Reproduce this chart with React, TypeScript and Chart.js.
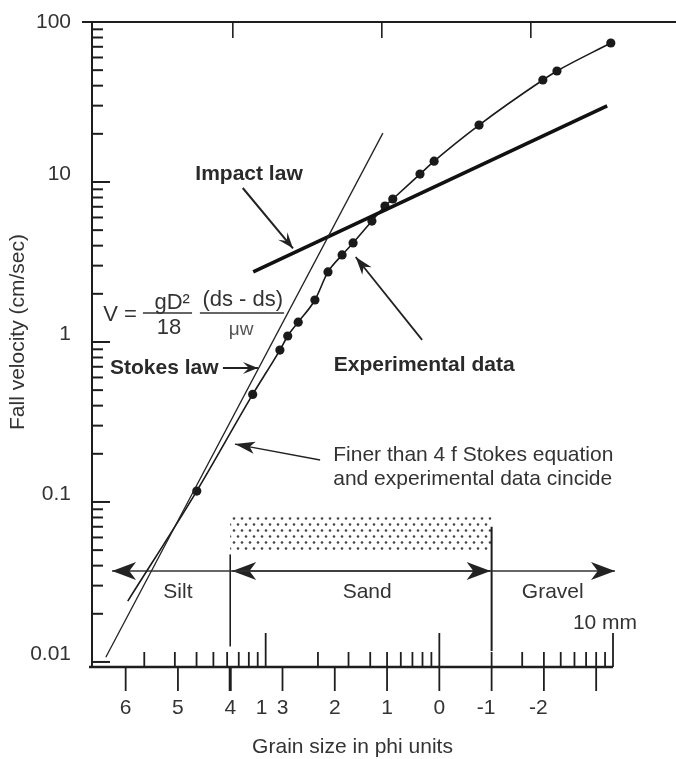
import React, { useEffect, useRef } from "react";
import { Chart, registerables } from "chart.js";

Chart.register(...registerables);

// ---- data (x in phi units, y = fall velocity cm/sec) ----
const expPhi = [5.96, 4.64, 3.57, 3.05, 2.9, 2.7, 2.38, 2.13, 1.86, 1.65, 1.29, 1.04, 0.89, 0.37, 0.1, -0.76, -1.98, -2.25, -3.28];
const expVelocity = [0.024, 0.117, 0.47, 0.89, 1.09, 1.33, 1.83, 2.74, 3.5, 4.16, 5.7, 7.08, 7.83, 11.2, 13.5, 22.7, 43.4, 49.4, 73.9];
const stokesPhi = [6.38, 1.08];
const stokesVelocity = [0.0107, 20.2];
const impactPhi = [3.56, -3.21];
const impactVelocity = [2.74, 29.9];

const yTickValues = [100, 10, 1, 0.1, 0.01];
const yTickLabels = ["100", "10", "1", "0.1", "0.01"];
const phiTicks = [6, 5, 4, 3, 2, 1, 0, -1, -2, -3];
const phiTickLabels = ["6", "5", "4", "3", "2", "1", "0", "-1", "-2", ""];
const mmMinorTicks = [0.02, 0.03, 0.04, 0.05, 0.06, 0.07, 0.08, 0.09, 0.2, 0.3, 0.4, 0.5, 0.6, 0.7, 0.8, 0.9, 2, 3, 4, 5, 6, 7, 8, 9];
const mmMajorTicks = [0.1, 1, 10];
const topTickPhi = [3.95, 1.1, -1.75];
const classBoundsPhi = [4, -1]; // silt/sand, sand/gravel
const classNames = ["Silt", "Sand", "Gravel"];
const classLabelPhi = [5.0, 1.38, -2.17];

const FONT = '"Liberation Sans", Arial, Helvetica, sans-serif';
const INK = "#1e1e1e";
const TEXT = "#333";

function head(ctx: CanvasRenderingContext2D, x1: number, y1: number, x2: number, y2: number, len: number, half: number, notch: number) {
  const a = Math.atan2(y2 - y1, x2 - x1);
  const c = Math.cos(a), s = Math.sin(a);
  const bx = x2 - len * c, by = y2 - len * s;
  ctx.beginPath();
  ctx.moveTo(x2, y2);
  ctx.lineTo(bx - half * s, by + half * c);
  ctx.lineTo(x2 - notch * len * c, y2 - notch * len * s);
  ctx.lineTo(bx + half * s, by - half * c);
  ctx.closePath();
  ctx.fill();
}

function arrow(ctx: CanvasRenderingContext2D, x1: number, y1: number, x2: number, y2: number, lw: number, len: number, half: number, notch: number) {
  ctx.lineWidth = lw;
  ctx.beginPath();
  ctx.moveTo(x1, y1);
  ctx.lineTo(x2, y2);
  ctx.stroke();
  head(ctx, x1, y1, x2, y2, len, half, notch);
}

const decorPlugin = {
  id: "decor",
  beforeDatasetsDraw(chart: any) {
    const ctx: CanvasRenderingContext2D = chart.ctx;
    const xs = chart.scales.x, ys = chart.scales.y;
    const { left, right, top, bottom } = chart.chartArea;
    const X = (p: number) => xs.getPixelForValue(p);
    const Y = (v: number) => ys.getPixelForValue(v);
    const mmX = (mm: number) => X(-Math.log2(mm));
    ctx.save();

    // stippled sand band
    const pc = document.createElement("canvas");
    pc.width = 8; pc.height = 12;
    const p = pc.getContext("2d")!;
    p.fillStyle = "#444";
    p.beginPath(); p.arc(2, 2.5, 1.3, 0, Math.PI * 2); p.fill();
    p.beginPath(); p.arc(6, 8.5, 1.3, 0, Math.PI * 2); p.fill();
    const pat = ctx.createPattern(pc, "repeat")!;
    ctx.fillStyle = pat;
    const bx1 = X(classBoundsPhi[0]), bx2 = X(classBoundsPhi[1]);
    ctx.fillRect(bx1, Y(0.083), bx2 - bx1, Y(0.05) - Y(0.083));

    ctx.strokeStyle = INK;
    ctx.fillStyle = INK;
    ctx.lineCap = "butt";

    // y axis
    ctx.lineWidth = 2;
    ctx.beginPath(); ctx.moveTo(left, top); ctx.lineTo(left, bottom); ctx.stroke();
    // top frame line
    ctx.beginPath(); ctx.moveTo(left - 10, top); ctx.lineTo(chart.width, top); ctx.stroke();
    ctx.lineWidth = 1.6;
    topTickPhi.forEach((ph) => {
      ctx.beginPath(); ctx.moveTo(X(ph), top); ctx.lineTo(X(ph), top + 16); ctx.stroke();
    });
    // y ticks
    ctx.lineWidth = 2;
    yTickValues.forEach((v) => {
      const y = Y(v);
      ctx.beginPath(); ctx.moveTo(left, y); ctx.lineTo(left + 18, y); ctx.stroke();
    });
    [0.01, 0.1, 1, 10].forEach((d) => {
      for (let m = 2; m <= 9; m++) {
        const y = Y(m * d);
        ctx.beginPath(); ctx.moveTo(left, y); ctx.lineTo(left + 11, y); ctx.stroke();
      }
    });

    // bottom axis
    ctx.lineWidth = 2.5;
    ctx.beginPath(); ctx.moveTo(left - 3, bottom); ctx.lineTo(right, bottom); ctx.stroke();
    phiTicks.forEach((ph) => {
      ctx.lineWidth = ph === 4 ? 3 : 1.8;
      ctx.beginPath(); ctx.moveTo(X(ph), bottom); ctx.lineTo(X(ph), bottom + 24); ctx.stroke();
    });
    ctx.lineWidth = 1.8;
    mmMinorTicks.forEach((mm) => {
      ctx.beginPath(); ctx.moveTo(mmX(mm), bottom); ctx.lineTo(mmX(mm), bottom - 15); ctx.stroke();
    });
    mmMajorTicks.forEach((mm) => {
      ctx.beginPath(); ctx.moveTo(mmX(mm), bottom); ctx.lineTo(mmX(mm), bottom - 34); ctx.stroke();
    });

    // class boundaries
    ctx.lineWidth = 1.6;
    ctx.beginPath(); ctx.moveTo(bx1, Y(0.047)); ctx.lineTo(bx1, Y(0.0125)); ctx.stroke();
    ctx.lineWidth = 2;
    ctx.beginPath(); ctx.moveTo(bx2, Y(0.07)); ctx.lineTo(bx2, Y(0.0117)); ctx.stroke();

    // class arrows
    const ay = Y(0.037);
    ctx.strokeStyle = "#333"; ctx.fillStyle = "#222";
    arrow(ctx, bx1, ay, X(6.26), ay, 1.5, 24, 9, 0.72);
    arrow(ctx, bx2, ay, bx1 + 2, ay, 1.5, 24, 9, 0.72);
    arrow(ctx, bx1, ay, bx2 - 1, ay, 1.5, 24, 9, 0.72);
    arrow(ctx, bx2, ay, X(-3.36), ay, 1.5, 24, 9, 0.72);

    // ---- texts ----
    ctx.fillStyle = TEXT;
    ctx.font = `21px ${FONT}`;
    ctx.textAlign = "right";
    ctx.textBaseline = "middle";
    yTickValues.forEach((v, i) => {
      ctx.fillText(yTickLabels[i], left - 21, Math.max(Y(v) - 8, top));
    });
    ctx.textAlign = "center";
    const dashW = ctx.measureText("-").width;
    phiTicks.forEach((ph, i) => {
      const lab = phiTickLabels[i];
      if (!lab) return;
      const off = lab.startsWith("-") ? -dashW / 2 - 2 : 0;
      ctx.fillText(lab, X(ph) + off, bottom + 41);
    });
    ctx.fillText("1", mmX(0.1) - 4, bottom + 41);
    ctx.fillText("10 mm", mmX(10) - 8, bottom - 44);
    classNames.forEach((n, i) => ctx.fillText(n, X(classLabelPhi[i]), Y(0.0274)));

    // axis titles
    ctx.fillText("Grain size in phi units", (left + right) / 2, bottom + 80);
    ctx.save();
    ctx.translate(18, 332);
    ctx.rotate(-Math.PI / 2);
    ctx.fillText("Fall velocity (cm/sec)", 0, 0);
    ctx.restore();

    ctx.restore();
  },
  afterDatasetsDraw(chart: any) {
    const ctx: CanvasRenderingContext2D = chart.ctx;
    const xs = chart.scales.x, ys = chart.scales.y;
    const X = (p: number) => xs.getPixelForValue(p);
    const Y = (v: number) => ys.getPixelForValue(v);
    ctx.save();
    ctx.textBaseline = "middle";

    // equation
    ctx.fillStyle = TEXT;
    ctx.font = `22px ${FONT}`;
    ctx.textAlign = "left";
    ctx.fillText("V =", X(6.43), Y(1.475));
    ctx.textAlign = "center";
    ctx.fillText("gD²", X(5.11), Y(1.75));
    ctx.fillText("18", X(5.17), Y(1.22));
    ctx.fillText("(ds - ds)", X(3.76), Y(1.83));
    ctx.font = `19px ${FONT}`;
    ctx.fillStyle = "#555";
    ctx.fillText("μw", X(3.79), Y(1.19));
    ctx.strokeStyle = "#333";
    ctx.lineWidth = 1.5;
    ctx.beginPath(); ctx.moveTo(X(5.67), Y(1.518)); ctx.lineTo(X(4.73), Y(1.518)); ctx.stroke();
    ctx.beginPath(); ctx.moveTo(X(4.58), Y(1.518)); ctx.lineTo(X(2.97), Y(1.518)); ctx.stroke();

    // bold labels
    ctx.fillStyle = "#2a2a2a";
    ctx.font = `bold 21px ${FONT}`;
    ctx.textAlign = "center";
    ctx.fillText("Impact law", X(3.64), Y(11.2));
    ctx.fillText("Experimental data", X(0.29), Y(0.718));
    ctx.textAlign = "left";
    ctx.fillText("Stokes law", X(6.3), Y(0.688));

    // note
    ctx.fillStyle = TEXT;
    ctx.font = `21px ${FONT}`;
    ctx.fillText("Finer than 4 f Stokes equation", X(2.03), Y(0.197));
    ctx.fillText("and experimental data cincide", X(2.03), Y(0.139));

    // pointer arrows
    ctx.strokeStyle = "#222";
    ctx.fillStyle = "#222";
    arrow(ctx, X(3.76), Y(9.17), X(2.8), Y(3.85), 2, 16, 6, 0.6);
    arrow(ctx, X(4.14), Y(0.688), X(3.47), Y(0.688), 2, 15, 6, 0.6);
    arrow(ctx, X(0.33), Y(1.03), X(1.6), Y(3.4), 1.8, 18, 6, 0.7);
    arrow(ctx, X(2.28), Y(0.183), X(3.91), Y(0.23), 1.4, 20, 6, 0.75);

    ctx.restore();
  },
};

export default function App() {
  const ref = useRef<HTMLCanvasElement | null>(null);
  useEffect(() => {
    if (!ref.current) return;
    const toXY = (xs: number[], ys: number[]) => xs.map((x, i) => ({ x, y: ys[i] }));
    const chart = new Chart(ref.current, {
      type: "line",
      data: {
        datasets: [
          {
            label: "Stokes law",
            data: toXY(stokesPhi, stokesVelocity),
            borderColor: "#222",
            borderWidth: 1.3,
            pointRadius: 0,
            clip: false,
          },
          {
            label: "Impact law",
            data: toXY(impactPhi, impactVelocity),
            borderColor: "#111",
            borderWidth: 3.6,
            pointRadius: 0,
            clip: false,
          },
          {
            label: "Experimental data",
            data: toXY(expPhi, expVelocity),
            borderColor: "#1a1a1a",
            borderWidth: 1.6,
            backgroundColor: "#1a1a1a",
            pointBackgroundColor: "#1a1a1a",
            pointBorderWidth: 0,
            pointRadius: (c: any) => (c.dataIndex === 0 ? 0 : 4.6),
            cubicInterpolationMode: "monotone",
            clip: false,
          },
        ] as any,
      },
      options: {
        animation: false,
        responsive: false,
        devicePixelRatio: 1,
        layout: { padding: { left: 92, right: 63, top: 22, bottom: 92 } },
        plugins: { legend: { display: false }, tooltip: { enabled: false } },
        events: [],
        scales: {
          x: { type: "linear", reverse: true, min: -Math.log2(10), max: -Math.log2(0.01), display: false },
          y: { type: "logarithmic", min: 0.0093, max: 100, display: false },
        },
      },
      plugins: [decorPlugin],
    });
    return () => chart.destroy();
  }, []);
  return (
    <div style={{ position: "fixed", left: 0, top: 0, width: 676, height: 759, background: "#fff" }}>
      <canvas ref={ref} width={676} height={759} style={{ display: "block" }} />
    </div>
  );
}
